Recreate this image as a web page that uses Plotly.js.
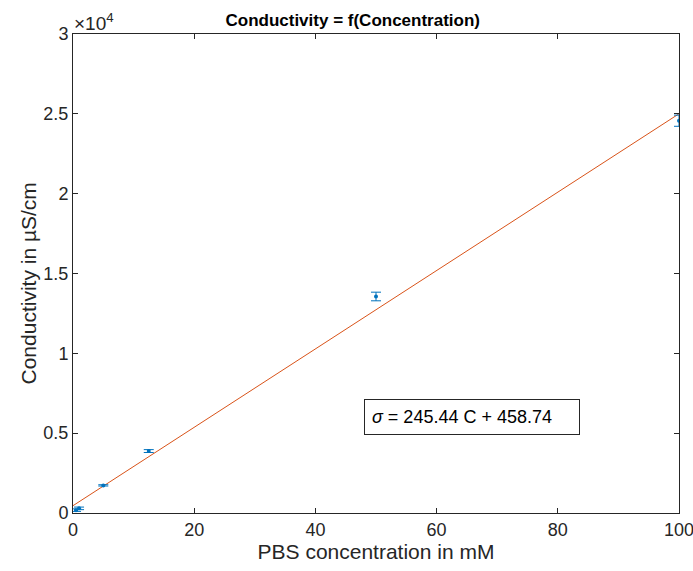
<!DOCTYPE html>
<html><head><meta charset="utf-8">
<script src="https://cdn.plot.ly/plotly-3.0.1.min.js"></script>
<style>html,body{margin:0;padding:0;background:#fff}#c{width:693px;height:571px}</style>
</head><body><div id="c"></div>
<script>
const concentration = [0.5, 1, 5, 12.5, 50, 100];
const conductivity = [180, 290, 1730, 3880, 13560, 24570];
const errorBar = [80, 80, 40, 90, 270, 350];
const fitSlope = 245.44;
const fitIntercept = 458.74;
const fitX = [0, 100];
const fitY = fitX.map(c => fitSlope * c + fitIntercept);
const yTickVals = [0, 5000, 10000, 15000, 20000, 25000, 30000];
const yTickText = ['0', '0.5', '1', '1.5', '2', '2.5', '3'];
const xTickVals = [0, 20, 40, 60, 80, 100];

const font = 'Liberation Sans, Arial, sans-serif';
const traces = [
  {x: fitX, y: fitY, mode: 'lines', line: {color: '#D95319', width: 1}, hoverinfo: 'skip'},
  {x: concentration, y: conductivity, mode: 'markers',
   marker: {color: '#0072BD', size: 4},
   error_y: {type: 'data', array: errorBar, visible: true, color: '#0072BD', thickness: 1, width: 5}}
];
const axisCommon = {showgrid: false, zeroline: false, showline: true, linecolor: '#262626', linewidth: 1,
  mirror: 'ticks', ticks: 'inside', ticklen: 5, tickcolor: '#262626', ticklabeloverflow: 'allow',
  tickfont: {family: font, size: 18, color: '#262626'}};
const layout = {
  width: 693, height: 571, paper_bgcolor: '#fff', plot_bgcolor: '#fff',
  margin: {l: 73, r: 14, t: 34, b: 58}, showlegend: false,
  title: {text: '<b>Conductivity = f(Concentration)</b>', font: {family: font, size: 17, color: '#000'},
    x: 0.509, xanchor: 'center', y: 0.965, yanchor: 'middle'},
  xaxis: Object.assign({}, axisCommon, {range: [0, 100], tickvals: xTickVals,
    title: {text: 'PBS concentration in mM', font: {family: font, size: 21, color: '#262626'}, standoff: 2}}),
  yaxis: Object.assign({}, axisCommon, {range: [0, 30000], tickvals: yTickVals, ticktext: yTickText}),
  annotations: [
    {xref: 'paper', yref: 'paper', x: 0, y: 0.5, xanchor: 'center', yanchor: 'middle', showarrow: false,
     textangle: -90, xshift: -45, yshift: -10,
     text: 'Conductivity in µS/cm', font: {family: font, size: 21, color: '#262626'}},
    {xref: 'paper', yref: 'paper', x: 0, y: 1, xanchor: 'left', yanchor: 'bottom', showarrow: false,
     text: '×10<sup>4</sup>', font: {family: font, size: 19, color: '#262626'}, yshift: -2, xshift: -1},
    {xref: 'x', yref: 'y', x: 65.8, y: 6000, showarrow: false, align: 'left',
     text: '<i>σ</i> = 245.44 C + 458.74', font: {family: font, size: 18, color: '#000'},
     bordercolor: '#262626', borderwidth: 1, borderpad: 7, bgcolor: '#fff', width: 200}
  ]
};
Plotly.newPlot('c', traces, layout, {displayModeBar: false, staticPlot: true});
</script></body></html>
